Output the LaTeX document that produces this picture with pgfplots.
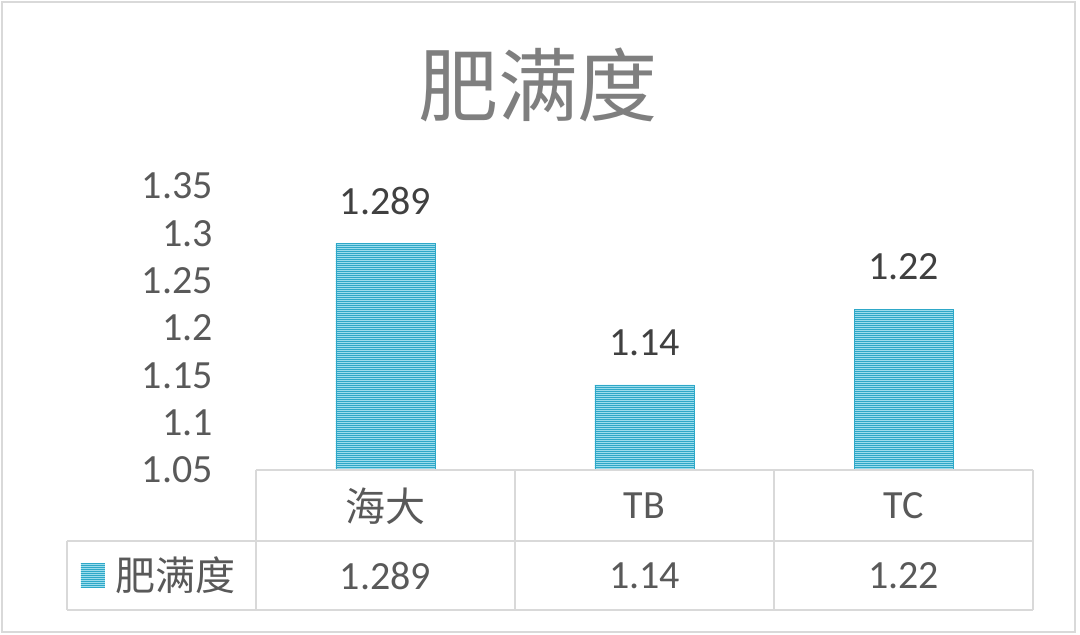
\documentclass[border=0pt]{standalone}
\usepackage{fontspec}
\usepackage{pgfplots}
\pgfplotsset{compat=1.18}
\usetikzlibrary{patterns}
\setmainfont{Carlito}
\newfontfamily\cjk{Noto Sans CJK SC}
\definecolor{barfill}{HTML}{9CDCEC}
\definecolor{barline}{HTML}{2EA8C8}
\definecolor{tickgray}{HTML}{595959}
\definecolor{labelgray}{HTML}{404040}
\definecolor{titlegray}{HTML}{7F7F7F}
\definecolor{rulegray}{HTML}{D9D9D9}
\newcommand\lblfont{\fontsize{40}{48}\selectfont}
% tile wider than the page, so that no seam falls inside a bar
\pgfdeclarepatternformonly{hstripes}{\pgfpointorigin}{\pgfpoint{1100pt}{2.4pt}}{\pgfpoint{1100pt}{2.4pt}}{%
  \pgfpathrectangle{\pgfpointorigin}{\pgfpoint{1100pt}{1.2pt}}\pgfusepath{fill}}

\begin{document}
\begin{tikzpicture}[x=1pt,y=1pt]
\useasboundingbox (-256,-165) rectangle (824,470);
\draw[rulegray, line width=1.5pt] (-254,-162) rectangle (819,468);
\node[text=titlegray, font=\fontsize{80}{84}\selectfont\cjk] at (282,385) {肥满度};

\begin{axis}[
    at={(0,0)}, anchor=south west,
    scale only axis,
    width=777pt, height=284pt,
    xmin=-0.5, xmax=2.5,
    ymin=1.05, ymax=1.35,
    ytick={1.05,1.1,1.15,1.2,1.25,1.3,1.35},
    xtick={0,1,2},
    xticklabels={{\cjk 海大},TB,TC},
    axis line style={draw=none},
    major tick length=0pt,
    tick label style={font=\lblfont, text=tickgray, inner sep=0pt},
    yticklabel style={anchor=east, xshift=-43pt},
    xticklabel style={anchor=center, yshift=-36pt},
    /pgf/number format/assume math mode=true,
    clip=false,
    nodes near coords={\pgfmathprintnumber[precision=3]{\pgfplotspointmeta}},
    nodes near coords style={font=\lblfont, text=labelgray, anchor=south,
        inner sep=0pt, yshift=29pt},
]
\addplot[ybar, bar width=99pt, fill=barfill, draw=barline, line width=0.6pt,
    postaction={pattern=hstripes, pattern color=barline}]
    coordinates {(0,1.289) (1,1.14) (2,1.22)};
\end{axis}

% data table under the plot
\begin{scope}[rulegray, line width=2pt]
  \draw (0,0) -- (777,0);
  \draw (-189,-71) -- (777,-71);
  \draw (-189,-140) -- (777,-140);
  \draw (-189,-71) -- (-189,-140);
  \foreach \xx in {0,259,518,777} \draw (\xx,0) -- (\xx,-140);
\end{scope}
\fill[barfill] (-175,-93) rectangle (-151,-118);
\fill[pattern=hstripes, pattern color=barline] (-175,-93) rectangle (-151,-118);
\node[anchor=west, inner sep=0pt, text=tickgray, font=\lblfont\cjk] at (-141,-105) {肥满度};
\foreach \xx/\vv in {129.5/1.289, 388.5/1.14, 647.5/1.22}
  \node[inner sep=0pt, text=tickgray, font=\lblfont] at (\xx,-106) {\vv};
\end{tikzpicture}
\end{document}
